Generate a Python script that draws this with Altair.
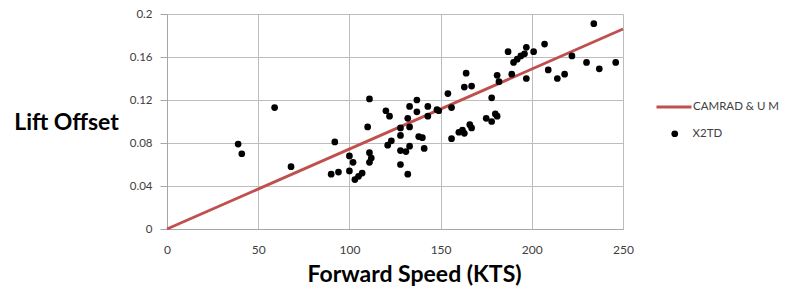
import altair as alt
import pandas as pd

# X2TD measured points
x2td_speed = [39, 41, 59, 68, 92, 90, 94, 100, 102, 100, 103, 105, 107, 111, 110, 111, 112, 111,
              120, 122, 121, 123, 128, 133, 128, 128, 131, 133, 132, 133, 137, 137, 143, 143, 148,
              149, 138, 140, 141, 128, 132, 154, 156, 156, 160, 162, 163, 166, 167, 163, 167, 164,
              175, 178, 180, 181, 178, 181, 182, 187, 189, 190, 192, 194, 196, 197, 201, 197, 207,
              209, 214, 218, 222, 230, 234, 237, 246]
x2td_offset = [0.079, 0.070, 0.113, 0.058, 0.081, 0.051, 0.053, 0.068, 0.062, 0.054, 0.046, 0.049,
               0.052, 0.121, 0.095, 0.071, 0.066, 0.062, 0.110, 0.105, 0.078, 0.082, 0.094, 0.095,
               0.087, 0.073, 0.072, 0.077, 0.103, 0.114, 0.120, 0.109, 0.114, 0.105, 0.111, 0.110,
               0.086, 0.085, 0.075, 0.060, 0.051, 0.126, 0.113, 0.084, 0.090, 0.092, 0.089, 0.097,
               0.094, 0.132, 0.133, 0.145, 0.103, 0.100, 0.107, 0.105, 0.122, 0.143, 0.137, 0.165,
               0.144, 0.155, 0.158, 0.161, 0.163, 0.169, 0.165, 0.140, 0.172, 0.148, 0.140, 0.144,
               0.161, 0.155, 0.191, 0.149, 0.155]

# CAMRAD & UM prediction line
camrad_speed = [0, 250]
camrad_offset = [0.0, 0.186]

x_ticks = [0, 50, 100, 150, 200, 250]
y_ticks = [0, 0.04, 0.08, 0.12, 0.16, 0.2]

pts = pd.DataFrame({"speed": x2td_speed, "offset": x2td_offset, "series": "X2TD"})
ln = pd.DataFrame({"speed": camrad_speed, "offset": camrad_offset, "series": "CAMRAD & U M"})

FONT = "Lato"
x_enc = alt.X("speed:Q", scale=alt.Scale(domain=[0, 250], nice=False),
              axis=alt.Axis(values=x_ticks, title="Forward Speed (KTS)", titleX=247, titleY=52,
                            titleBaseline="alphabetic", labelFlush=False,
                            titleFontSize=23, titleFont=FONT, titleFontWeight="bold",
                            titleColor="#000000", tickSize=0, labelPadding=15))
y_enc = alt.Y("offset:Q", scale=alt.Scale(domain=[0, 0.2], nice=False),
              axis=alt.Axis(values=y_ticks, title="Lift Offset", titleAngle=0, titleX=-101,
                            titleY=108, titleAlign="center", titleBaseline="middle",
                            labelFlush=False, labelFontSize=11.5,
                            titleFontSize=23, titleFont=FONT, titleFontWeight="bold",
                            titleColor="#000000", tickSize=7, labelPadding=8,
                            labelExpr="datum.value == 0 ? '0' : format(datum.value, '.2~f')"))

line = alt.Chart(ln).mark_line(strokeWidth=2.8).encode(
    x=x_enc, y=y_enc,
    stroke=alt.Stroke("series:N", scale=alt.Scale(domain=["CAMRAD & U M"], range=["#C0504D"]),
                      legend=alt.Legend(title=None, orient="none", legendX=488, legendY=74,
                                        symbolType="stroke", symbolSize=1225, symbolStrokeWidth=3,
                                        labelOffset=0, padding=0, labelFontSize=11.5, labelFont=FONT,
                                        labelColor="#404040")),
)

points = alt.Chart(pts).mark_circle(size=45, opacity=1).encode(
    x="speed:Q", y="offset:Q",
    fill=alt.Fill("series:N", scale=alt.Scale(domain=["X2TD"], range=["#000000"]),
                  legend=alt.Legend(title=None, orient="none", legendX=502, legendY=114,
                                    symbolType="circle", symbolSize=45, labelOffset=12, padding=0,
                                    labelFontSize=11.5, labelFont=FONT, labelColor="#404040")),
)

chart = alt.layer(line, points).properties(
    width=456, height=215,
    autosize=alt.AutoSizeParams(type="none"),
    padding={"left": 159, "top": 6, "right": 162, "bottom": 58},
).configure_view(stroke=None).configure_axis(
    gridColor="#bdbdbd", gridWidth=1, domainColor="#a6a6a6", tickColor="#a6a6a6",
    labelFont=FONT, labelFontSize=12, labelColor="#404040", gridOpacity=1,
)

chart.save("out.html", embed_options={"renderer": "svg", "actions": False})
